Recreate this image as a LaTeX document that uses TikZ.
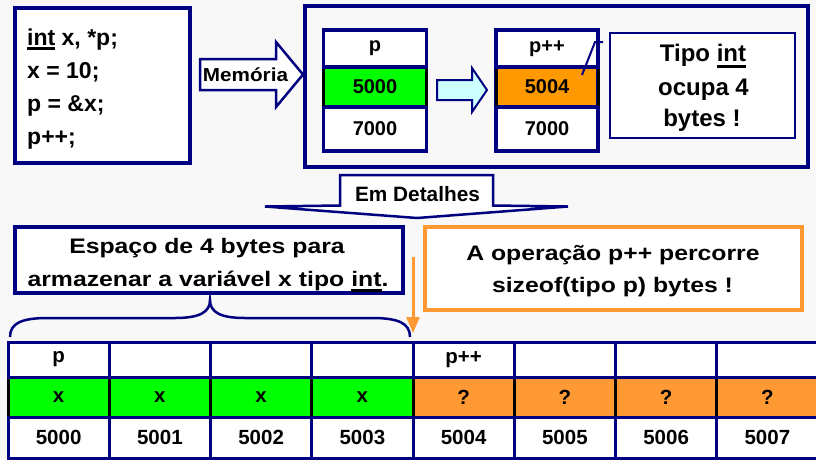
\documentclass[tikz,border=0pt]{standalone}
\usepackage{fontspec}
\setmainfont{Liberation Sans}
\newfontfamily\widesans{Liberation Sans}[FakeStretch=1.18]
\newfontfamily\midsans{Liberation Sans}[FakeStretch=1.1]
\usetikzlibrary{arrows.meta}

\definecolor{navy}{HTML}{000080}
\definecolor{bgc}{HTML}{F8F8F8}
\definecolor{cellgreen}{HTML}{00FF00}
\definecolor{toporange}{HTML}{FF9900}
\definecolor{softorange}{HTML}{FF9933}
\definecolor{paleCyan}{HTML}{CCFFFF}

% thick underline for keywords: #1 = how far below the baseline the bar ends
\newcommand\thickul[2][4.5pt]{\setbox0=\hbox{#2}\rlap{\rule[-#1]{\wd0}{3pt}}\box0\relax}

\begin{document}
\begin{tikzpicture}[x=1pt,y=-1pt,
  navybox/.style={draw=navy, line width=3.5pt, fill=white, inner sep=0, outer sep=0},
  memcell/.style={draw=navy, line width=3.5pt, fill=white, inner sep=0, outer sep=0,
                  minimum width=103, font=\bfseries\fontsize{20}{24}\selectfont},
  tcell/.style={draw=navy, line width=3pt, fill=white, inner sep=0, outer sep=0,
                minimum width=101.25, font=\bfseries\fontsize{20.5}{24}\selectfont},
  codetxt/.style={inner sep=0, anchor=base west, font=\bfseries\fontsize{23}{28}\selectfont},
  bigtxt/.style={inner sep=0, anchor=base, font=\bfseries\fontsize{24}{28}\selectfont},
  widetxt/.style={inner sep=0, anchor=base, font=\widesans\bfseries\fontsize{21}{26}\selectfont},
  blackedge/.style={black, line width=3pt, shorten <=1.5pt, shorten >=1.5pt},
  blockarrow/.style={draw=navy, line join=miter}
]
\useasboundingbox (0,0) rectangle (816,459);
\clip (0,0) rectangle (816,459);
\fill[bgc] (0,0) rectangle (816,459);

% ---------------- source code ----------------
\node[navybox, anchor=north west, minimum width=175, minimum height=155] (code) at (15,8) {};
\node[codetxt] (c1) at (27,45) {\thickul[4.5pt]{int} x, *p;};
\node[codetxt] (c2) at (27,78) {x = 10;};
\node[codetxt] (c3) at (27,111) {p = \&x;};
\node[codetxt] (c4) at (27,144) {p++;};

% ---------------- "Memória" block arrow ----------------
\filldraw[blockarrow, fill=white, line width=2.5pt]
  (200,59) -- (276,59) -- (276,42) -- (303,74.5) -- (276,107) -- (276,90) -- (200,90) -- cycle;
\node[inner sep=0, anchor=base, font=\midsans\bfseries\fontsize{18.8}{22}\selectfont] (mem) at (245.5,81.5) {Memória};

% ---------------- memory frame ----------------
\node[draw=navy, line width=3.5pt, inner sep=0, outer sep=0, anchor=north west,
      minimum width=503, minimum height=161] (frame) at (305,6) {};

% pointer p before the increment
\node[memcell, minimum height=37] (ph) at (375,48.5) {p};
\node[memcell, minimum height=40, fill=cellgreen] (pv) at (375,87) {5000};
\node[memcell, minimum height=44] (pa) at (375,129) {7000};
\draw[blackedge] (pv.north west) -- (pv.south west);
\draw[blackedge] (pv.north east) -- (pv.south east);

% small light arrow between the two states
\filldraw[blockarrow, fill=paleCyan, line width=2pt]
  (437,80) -- (472,80) -- (472,68) -- (487,90) -- (472,112) -- (472,100) -- (437,100) -- cycle;

% pointer p after the increment
\node[memcell, minimum width=102, minimum height=37] (qh) at (547,48.5) {p++};
\node[memcell, minimum width=102, minimum height=40, fill=toporange] (qv) at (547,87) {5004};
\node[memcell, minimum width=102, minimum height=44] (qa) at (547,129) {7000};
\draw[blackedge] (qv.north west) -- (qv.south west);
\draw[blackedge] (qv.north east) -- (qv.south east);

% note about the size of int
\node[draw=navy, line width=2.5pt, fill=white, inner sep=0, outer sep=0, anchor=north west,
      minimum width=185, minimum height=105] (tipo) at (610,33) {};
\node[bigtxt] (t1) at (703,61.7) {Tipo \thickul[6pt]{int}};
\node[bigtxt] (t2) at (703.5,95) {ocupa 4};
\node[bigtxt] (t3) at (702,126.7) {bytes !};
\coordinate (tagA) at (582,75);
\coordinate (tagB) at (595,42);
\coordinate (tagC) at (603,42);
\draw[navy, line width=2pt] (tagA) -- (tagB) -- (tagC);

% ---------------- "Em Detalhes" callout ----------------
\filldraw[blockarrow, fill=white, line width=2.5pt]
  (340,205.5) -- (340,175) -- (493,175) -- (493,205.5) -- (568,206.5) -- (417,218)
  -- (265,206.5) -- cycle;
\node[inner sep=0, anchor=base, font=\bfseries\fontsize{20.8}{24}\selectfont] (det) at (417.5,201.5) {Em Detalhes};

% ---------------- explanation boxes ----------------
\node[navybox, anchor=north west, minimum width=388, minimum height=66] (espaco) at (15,227) {};
\node[widetxt] (e1) at (207,253.3) {Espaço de 4 bytes para};
\node[widetxt] (e2) at (208,286.5) {armazenar a variável x tipo \thickul[5pt]{int}.};

\node[draw=softorange, line width=3.5pt, fill=white, inner sep=0, outer sep=0, anchor=north west,
      minimum width=377, minimum height=83] (oper) at (425,227) {};
\node[widetxt] (o1) at (613,260) {A operação p++ percorre};
\node[widetxt] (o2) at (612.5,292) {sizeof(tipo p) bytes !};

% brace over the four bytes of x
\draw[navy, line width=2.5pt]
  (10,337) .. controls (10,323) and (22,318) .. (48,318) -- (175,318)
  .. controls (200,318) and (210,312) .. (210,300)
  .. controls (210,312) and (220,318) .. (245,318) -- (372,318)
  .. controls (398,318) and (410,323) .. (410,337);

% step of p++
\coordinate (stepTop) at (413,257);
\coordinate (stepTip) at (413,333);
\draw[softorange, line width=3pt, -{Triangle[width=13pt,length=16pt]}] (stepTop) -- (stepTip);

% ---------------- byte-level memory table ----------------
\foreach \i/\lab in {0/p,1/,2/,3/,4/p++,5/,6/,7/} {
  \pgfmathsetmacro\cx{58.625+101.25*\i}
  \node[tcell, minimum height=35] (h\i) at (\cx,359.5) {\lab};
}
\foreach \i/\fc/\lab in {0/cellgreen/x,1/cellgreen/x,2/cellgreen/x,3/cellgreen/x,
                         4/softorange/?,5/softorange/?,6/softorange/?,7/softorange/?} {
  \pgfmathsetmacro\cx{58.625+101.25*\i}
  \node[tcell, minimum height=40, fill=\fc] (v\i) at (\cx,397) {\lab};
}
\foreach \i in {0,...,7} {
  \pgfmathsetmacro\cx{58.625+101.25*\i}
  \pgfmathtruncatemacro\addr{5000+\i}
  \node[tcell, minimum height=41] (a\i) at (\cx,437.5) {\addr};
}
\foreach \i in {0,...,7} {
  \draw[blackedge] (v\i.north west) -- (v\i.south west);
}
\draw[blackedge] (v7.north east) -- (v7.south east);
\end{tikzpicture}
\end{document}
